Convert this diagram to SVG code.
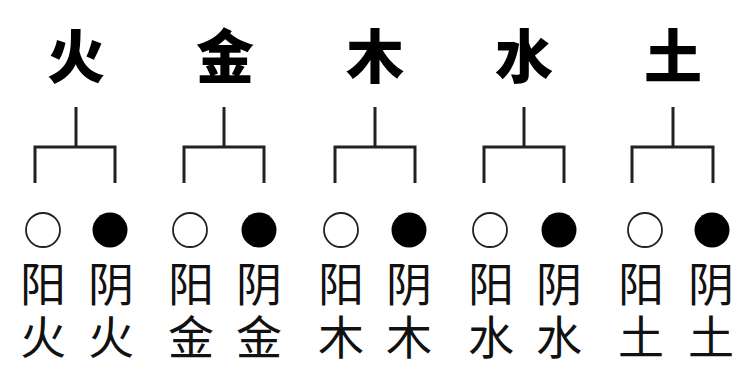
<svg xmlns="http://www.w3.org/2000/svg" width="747" height="372" viewBox="0 0 747 372">
<style>
.title{font-family:"Noto Sans CJK SC","Noto Sans CJK TC",sans-serif;font-weight:900;font-size:58px;fill:#000;text-anchor:middle}
.lbl{font-family:"Noto Sans CJK SC","Noto Sans CJK TC",sans-serif;font-weight:400;font-size:46px;fill:#111;text-anchor:middle}
.br{fill:none;stroke:#222;stroke-width:3}
.yang{fill:#fff;stroke:#222;stroke-width:1.8}
.yin{fill:#000}
</style>
<rect width="747" height="372" fill="#fff"/>
<g id="connectors">
<path class="br" d="M76 107V147M35 183V147H115V183"/>
<path class="br" d="M224 107V147M184 183V147H264V183"/>
<path class="br" d="M375 107V147M335 183V147H415V183"/>
<path class="br" d="M524 107V147M484 183V147H564V183"/>
<path class="br" d="M673 107V147M632 183V147H713V183"/>
</g>
<g id="fire">
<text class="title" x="76" y="78">火</text>
<circle class="yang" cx="43" cy="230" r="17"/><circle class="yin" cx="110" cy="230" r="17.5"/>
<text class="lbl" x="43" y="301">阳<tspan x="43" y="354">火</tspan></text>
<text class="lbl" x="111" y="301">阴<tspan x="111" y="354">火</tspan></text>
</g>
<g id="metal">
<text class="title" x="225" y="78">金</text>
<circle class="yang" cx="190" cy="230" r="17"/><circle class="yin" cx="259" cy="230" r="17.5"/>
<text class="lbl" x="191" y="301">阳<tspan x="191" y="354">金</tspan></text>
<text class="lbl" x="259" y="301">阴<tspan x="259" y="354">金</tspan></text>
</g>
<g id="wood">
<text class="title" x="375" y="78">木</text>
<circle class="yang" cx="341" cy="230" r="17"/><circle class="yin" cx="409" cy="230" r="17.5"/>
<text class="lbl" x="341" y="301">阳<tspan x="341" y="354">木</tspan></text>
<text class="lbl" x="409" y="301">阴<tspan x="409" y="354">木</tspan></text>
</g>
<g id="water">
<text class="title" x="524" y="78">水</text>
<circle class="yang" cx="490" cy="230" r="17"/><circle class="yin" cx="559" cy="230" r="17.5"/>
<text class="lbl" x="491" y="301">阳<tspan x="491" y="354">水</tspan></text>
<text class="lbl" x="559" y="301">阴<tspan x="559" y="354">水</tspan></text>
</g>
<g id="earth">
<text class="title" x="673" y="78">土</text>
<circle class="yang" cx="645" cy="230" r="17"/><circle class="yin" cx="712" cy="230" r="17.5"/>
<text class="lbl" x="641" y="301">阳<tspan x="641" y="354">土</tspan></text>
<text class="lbl" x="711" y="301">阴<tspan x="711" y="354">土</tspan></text>
</g>
</svg>
